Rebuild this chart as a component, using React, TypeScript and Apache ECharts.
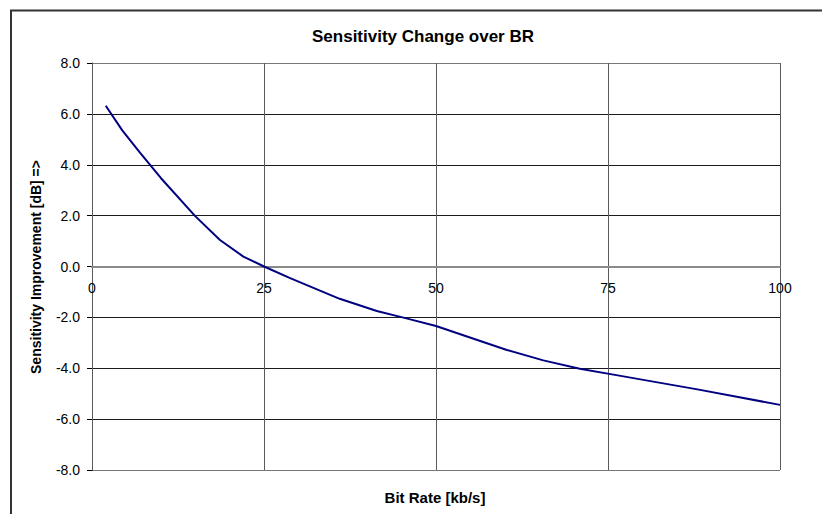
import React, { useEffect, useRef } from "react";
import * as echarts from "echarts";

const chartTitle = "Sensitivity Change over BR";
const xAxisTitle = "Bit Rate [kb/s]";
const yAxisTitle = "Sensitivity Improvement [dB] =>";

const bitRate = [2, 4.4, 7, 10, 15, 18.6, 22, 25, 28.8, 36, 41.4, 45.7, 50, 60.3, 65.6, 70.9, 76, 88, 100];
const sensitivity = [6.32, 5.35, 4.47, 3.48, 1.98, 1.04, 0.39, 0.0, -0.46, -1.27, -1.75, -2.04, -2.34, -3.28, -3.69, -4.02, -4.26, -4.83, -5.44];

const xMin = 0;
const xMax = 100;
const xStep = 25;
const yMin = -8;
const yMax = 8;
const yStep = 2;

const FONT = "'Liberation Sans', Arial, sans-serif";

const GRID_TOP = 63;
const GRID_BOTTOM = 44;
const PLOT_H = 514 - GRID_TOP - GRID_BOTTOM;

export default function App() {
  const ref = useRef<HTMLDivElement>(null);

  useEffect(() => {
    if (!ref.current) return;
    const chart = echarts.init(ref.current, undefined, { renderer: "svg" });
    const points = bitRate.map((x, i) => [x, sensitivity[i]]);
    // axis crosses at y = 0: shift the x axis from the bottom edge to the zero line
    const zeroOffset = -PLOT_H * ((0 - yMin) / (yMax - yMin));
    chart.setOption({
      animation: false,
      backgroundColor: "#ffffff",
      textStyle: { fontFamily: FONT },
      grid: { left: 92, right: 42, top: GRID_TOP, bottom: GRID_BOTTOM, containLabel: false },
      xAxis: {
        type: "value",
        min: xMin,
        max: xMax,
        interval: xStep,
        position: "bottom",
        offset: zeroOffset,
        axisLine: { show: true, onZero: false, lineStyle: { color: "#8a8a8a", width: 2 } },
        axisTick: { show: false },
        axisLabel: {
          show: true,
          margin: 14,
          color: "#000",
          fontSize: 14,
          fontFamily: FONT,
          showMinLabel: true,
          showMaxLabel: true,
        },
        splitLine: { show: true, lineStyle: { color: "#5a5a5a", width: 1 } },
        z: 3,
      },
      yAxis: {
        type: "value",
        min: yMin,
        max: yMax,
        interval: yStep,
        axisLine: { show: true, onZero: false, lineStyle: { color: "#000", width: 1 } },
        axisTick: { show: true, inside: false, length: 5, lineStyle: { color: "#000", width: 1 } },
        axisLabel: {
          margin: 12,
          color: "#000",
          fontSize: 14,
          fontFamily: FONT,
          formatter: (v: number) => v.toFixed(1),
        },
        splitLine: {
          show: true,
          lineStyle: {
            color: ["#777", "#1a1a1a", "#1a1a1a", "#1a1a1a", "#888", "#1a1a1a", "#1a1a1a", "#1a1a1a", "#777"],
            width: 1,
          },
        },
      },
      graphic: [
        {
          type: "rect",
          shape: { x: 11, y: 10.5, width: 900, height: 600 },
          style: { stroke: "#333", lineWidth: 2, fill: "none" },
          silent: true,
        },
        {
          type: "text",
          x: 423,
          y: 36,
          style: {
            text: chartTitle,
            font: `bold 17px ${FONT}`,
            fill: "#000",
            textAlign: "center",
            textVerticalAlign: "middle",
          },
        },
        {
          type: "text",
          x: 435,
          y: 497,
          style: {
            text: xAxisTitle,
            font: `bold 15px ${FONT}`,
            fill: "#000",
            textAlign: "center",
            textVerticalAlign: "middle",
          },
        },
        {
          type: "text",
          x: 36,
          y: 267,
          rotation: Math.PI / 2,
          style: {
            text: yAxisTitle,
            font: `bold 14px ${FONT}`,
            fill: "#000",
            textAlign: "center",
            textVerticalAlign: "middle",
          },
        },
      ],
      series: [
        {
          type: "line",
          data: points,
          showSymbol: false,
          symbol: "none",
          smooth: false,
          lineStyle: { color: "#000080", width: 2 },
          z: 5,
        },
      ],
    });
    return () => chart.dispose();
  }, []);

  return (
    <div
      ref={ref}
      style={{ position: "fixed", left: 0, top: 0, width: 822, height: 514, background: "#fff" }}
    />
  );
}
